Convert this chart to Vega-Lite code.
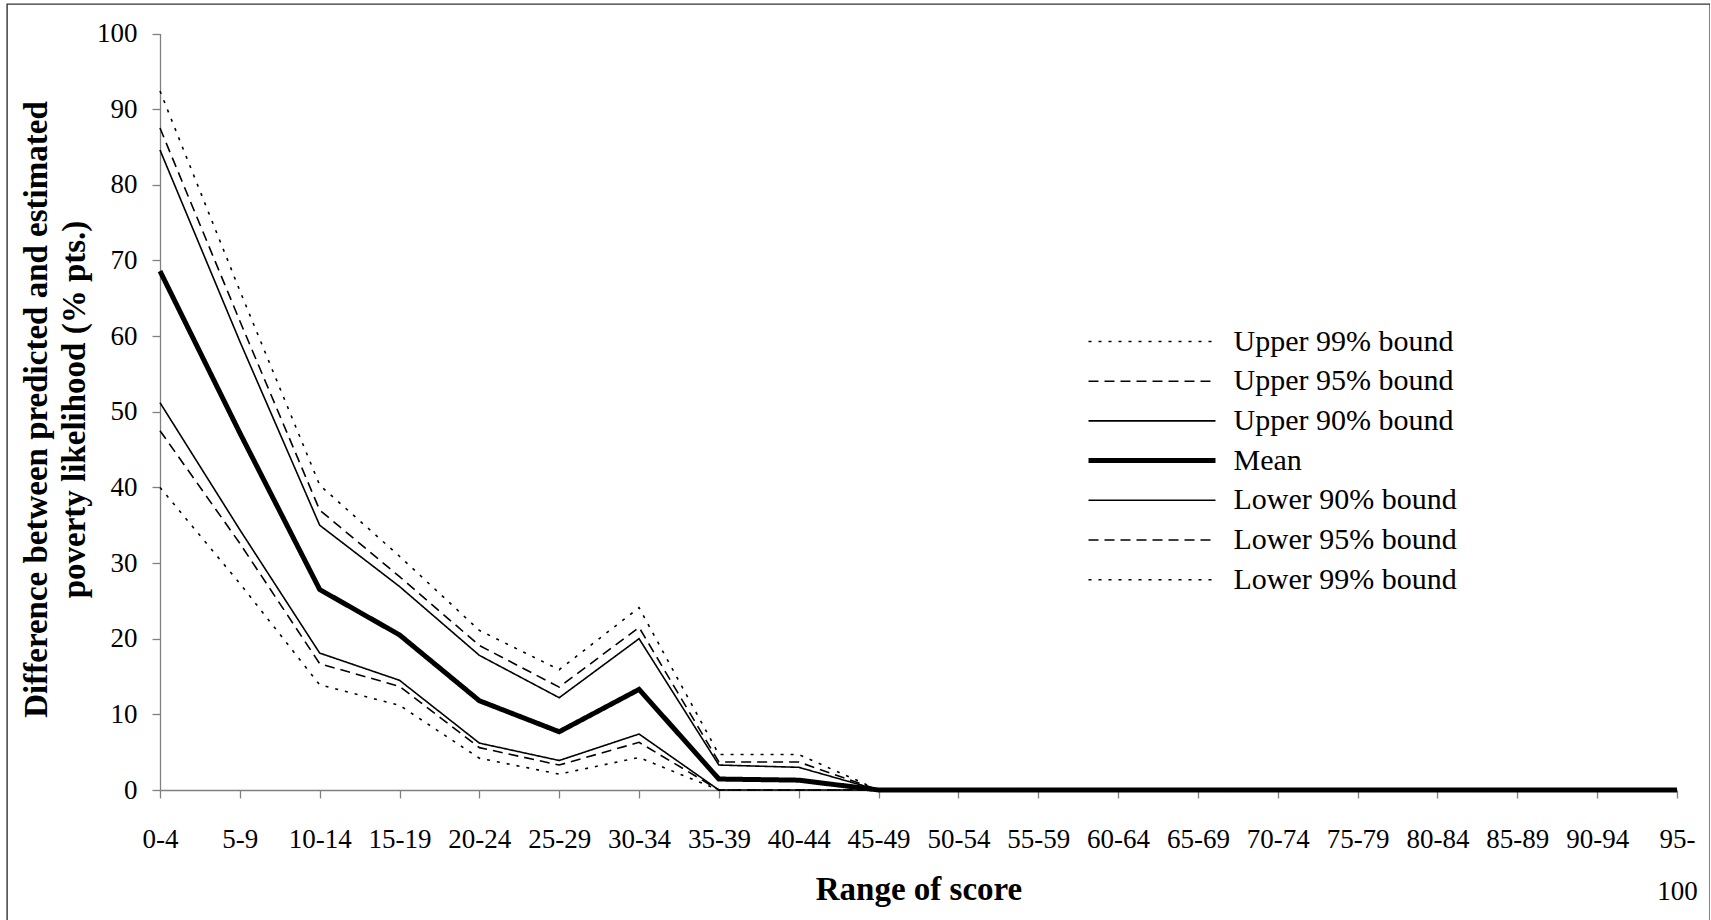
{
  "$schema": "https://vega.github.io/schema/vega-lite/v6.json",
  "width": 1703,
  "height": 925,
  "autosize": {"type": "none"},
  "padding": {"left": 7, "top": 4, "right": 0, "bottom": 0},
  "background": "white",
  "config": {
    "view": {"stroke": "#333333", "strokeWidth": 1.4},
    "font": "Liberation Serif",
    "axis": {"grid": false, "domainColor": "#808080", "tickColor": "#808080", "domainWidth": 1.3, "tickWidth": 1.3, "labelColor": "black", "titleColor": "black", "labelFont": "Liberation Serif", "titleFont": "Liberation Serif"}
  },
  "data": {
    "values": [
      {"range": "0-4", "series": "Upper 99% bound", "value": 92.4},
      {"range": "0-4", "series": "Upper 95% bound", "value": 87.5},
      {"range": "0-4", "series": "Upper 90% bound", "value": 84.6},
      {"range": "0-4", "series": "Mean", "value": 68.6},
      {"range": "0-4", "series": "Lower 90% bound", "value": 51.2},
      {"range": "0-4", "series": "Lower 95% bound", "value": 47.5},
      {"range": "0-4", "series": "Lower 99% bound", "value": 40.0},
      {"range": "5-9", "series": "Upper 99% bound", "value": 66.0},
      {"range": "5-9", "series": "Upper 95% bound", "value": 62.0},
      {"range": "5-9", "series": "Upper 90% bound", "value": 59.3},
      {"range": "5-9", "series": "Mean", "value": 47.2},
      {"range": "5-9", "series": "Lower 90% bound", "value": 34.4},
      {"range": "5-9", "series": "Lower 95% bound", "value": 32.6},
      {"range": "5-9", "series": "Lower 99% bound", "value": 27.3},
      {"range": "10-14", "series": "Upper 99% bound", "value": 40.3},
      {"range": "10-14", "series": "Upper 95% bound", "value": 37.0},
      {"range": "10-14", "series": "Upper 90% bound", "value": 35.0},
      {"range": "10-14", "series": "Mean", "value": 26.5},
      {"range": "10-14", "series": "Lower 90% bound", "value": 18.1},
      {"range": "10-14", "series": "Lower 95% bound", "value": 16.7},
      {"range": "10-14", "series": "Lower 99% bound", "value": 13.9},
      {"range": "15-19", "series": "Upper 99% bound", "value": 30.9},
      {"range": "15-19", "series": "Upper 95% bound", "value": 28.2},
      {"range": "15-19", "series": "Upper 90% bound", "value": 26.9},
      {"range": "15-19", "series": "Mean", "value": 20.5},
      {"range": "15-19", "series": "Lower 90% bound", "value": 14.5},
      {"range": "15-19", "series": "Lower 95% bound", "value": 13.7},
      {"range": "15-19", "series": "Lower 99% bound", "value": 11.2},
      {"range": "20-24", "series": "Upper 99% bound", "value": 21.1},
      {"range": "20-24", "series": "Upper 95% bound", "value": 19.1},
      {"range": "20-24", "series": "Upper 90% bound", "value": 17.8},
      {"range": "20-24", "series": "Mean", "value": 11.8},
      {"range": "20-24", "series": "Lower 90% bound", "value": 6.2},
      {"range": "20-24", "series": "Lower 95% bound", "value": 5.6},
      {"range": "20-24", "series": "Lower 99% bound", "value": 4.2},
      {"range": "25-29", "series": "Upper 99% bound", "value": 15.9},
      {"range": "25-29", "series": "Upper 95% bound", "value": 13.6},
      {"range": "25-29", "series": "Upper 90% bound", "value": 12.2},
      {"range": "25-29", "series": "Mean", "value": 7.7},
      {"range": "25-29", "series": "Lower 90% bound", "value": 3.9},
      {"range": "25-29", "series": "Lower 95% bound", "value": 3.3},
      {"range": "25-29", "series": "Lower 99% bound", "value": 2.1},
      {"range": "30-34", "series": "Upper 99% bound", "value": 24.1},
      {"range": "30-34", "series": "Upper 95% bound", "value": 21.5},
      {"range": "30-34", "series": "Upper 90% bound", "value": 20.0},
      {"range": "30-34", "series": "Mean", "value": 13.3},
      {"range": "30-34", "series": "Lower 90% bound", "value": 7.4},
      {"range": "30-34", "series": "Lower 95% bound", "value": 6.3},
      {"range": "30-34", "series": "Lower 99% bound", "value": 4.3},
      {"range": "35-39", "series": "Upper 99% bound", "value": 4.7},
      {"range": "35-39", "series": "Upper 95% bound", "value": 3.7},
      {"range": "35-39", "series": "Upper 90% bound", "value": 3.3},
      {"range": "35-39", "series": "Mean", "value": 1.45},
      {"range": "35-39", "series": "Lower 90% bound", "value": 0},
      {"range": "35-39", "series": "Lower 95% bound", "value": 0},
      {"range": "35-39", "series": "Lower 99% bound", "value": 0},
      {"range": "40-44", "series": "Upper 99% bound", "value": 4.7},
      {"range": "40-44", "series": "Upper 95% bound", "value": 3.7},
      {"range": "40-44", "series": "Upper 90% bound", "value": 3.0},
      {"range": "40-44", "series": "Mean", "value": 1.3},
      {"range": "40-44", "series": "Lower 90% bound", "value": 0},
      {"range": "40-44", "series": "Lower 95% bound", "value": 0},
      {"range": "40-44", "series": "Lower 99% bound", "value": 0},
      {"range": "45-49", "series": "Upper 99% bound", "value": 0},
      {"range": "45-49", "series": "Upper 95% bound", "value": 0},
      {"range": "45-49", "series": "Upper 90% bound", "value": 0},
      {"range": "45-49", "series": "Mean", "value": 0},
      {"range": "45-49", "series": "Lower 90% bound", "value": 0},
      {"range": "45-49", "series": "Lower 95% bound", "value": 0},
      {"range": "45-49", "series": "Lower 99% bound", "value": 0},
      {"range": "50-54", "series": "Upper 99% bound", "value": 0},
      {"range": "50-54", "series": "Upper 95% bound", "value": 0},
      {"range": "50-54", "series": "Upper 90% bound", "value": 0},
      {"range": "50-54", "series": "Mean", "value": 0},
      {"range": "50-54", "series": "Lower 90% bound", "value": 0},
      {"range": "50-54", "series": "Lower 95% bound", "value": 0},
      {"range": "50-54", "series": "Lower 99% bound", "value": 0},
      {"range": "55-59", "series": "Upper 99% bound", "value": 0},
      {"range": "55-59", "series": "Upper 95% bound", "value": 0},
      {"range": "55-59", "series": "Upper 90% bound", "value": 0},
      {"range": "55-59", "series": "Mean", "value": 0},
      {"range": "55-59", "series": "Lower 90% bound", "value": 0},
      {"range": "55-59", "series": "Lower 95% bound", "value": 0},
      {"range": "55-59", "series": "Lower 99% bound", "value": 0},
      {"range": "60-64", "series": "Upper 99% bound", "value": 0},
      {"range": "60-64", "series": "Upper 95% bound", "value": 0},
      {"range": "60-64", "series": "Upper 90% bound", "value": 0},
      {"range": "60-64", "series": "Mean", "value": 0},
      {"range": "60-64", "series": "Lower 90% bound", "value": 0},
      {"range": "60-64", "series": "Lower 95% bound", "value": 0},
      {"range": "60-64", "series": "Lower 99% bound", "value": 0},
      {"range": "65-69", "series": "Upper 99% bound", "value": 0},
      {"range": "65-69", "series": "Upper 95% bound", "value": 0},
      {"range": "65-69", "series": "Upper 90% bound", "value": 0},
      {"range": "65-69", "series": "Mean", "value": 0},
      {"range": "65-69", "series": "Lower 90% bound", "value": 0},
      {"range": "65-69", "series": "Lower 95% bound", "value": 0},
      {"range": "65-69", "series": "Lower 99% bound", "value": 0},
      {"range": "70-74", "series": "Upper 99% bound", "value": 0},
      {"range": "70-74", "series": "Upper 95% bound", "value": 0},
      {"range": "70-74", "series": "Upper 90% bound", "value": 0},
      {"range": "70-74", "series": "Mean", "value": 0},
      {"range": "70-74", "series": "Lower 90% bound", "value": 0},
      {"range": "70-74", "series": "Lower 95% bound", "value": 0},
      {"range": "70-74", "series": "Lower 99% bound", "value": 0},
      {"range": "75-79", "series": "Upper 99% bound", "value": 0},
      {"range": "75-79", "series": "Upper 95% bound", "value": 0},
      {"range": "75-79", "series": "Upper 90% bound", "value": 0},
      {"range": "75-79", "series": "Mean", "value": 0},
      {"range": "75-79", "series": "Lower 90% bound", "value": 0},
      {"range": "75-79", "series": "Lower 95% bound", "value": 0},
      {"range": "75-79", "series": "Lower 99% bound", "value": 0},
      {"range": "80-84", "series": "Upper 99% bound", "value": 0},
      {"range": "80-84", "series": "Upper 95% bound", "value": 0},
      {"range": "80-84", "series": "Upper 90% bound", "value": 0},
      {"range": "80-84", "series": "Mean", "value": 0},
      {"range": "80-84", "series": "Lower 90% bound", "value": 0},
      {"range": "80-84", "series": "Lower 95% bound", "value": 0},
      {"range": "80-84", "series": "Lower 99% bound", "value": 0},
      {"range": "85-89", "series": "Upper 99% bound", "value": 0},
      {"range": "85-89", "series": "Upper 95% bound", "value": 0},
      {"range": "85-89", "series": "Upper 90% bound", "value": 0},
      {"range": "85-89", "series": "Mean", "value": 0},
      {"range": "85-89", "series": "Lower 90% bound", "value": 0},
      {"range": "85-89", "series": "Lower 95% bound", "value": 0},
      {"range": "85-89", "series": "Lower 99% bound", "value": 0},
      {"range": "90-94", "series": "Upper 99% bound", "value": 0},
      {"range": "90-94", "series": "Upper 95% bound", "value": 0},
      {"range": "90-94", "series": "Upper 90% bound", "value": 0},
      {"range": "90-94", "series": "Mean", "value": 0},
      {"range": "90-94", "series": "Lower 90% bound", "value": 0},
      {"range": "90-94", "series": "Lower 95% bound", "value": 0},
      {"range": "90-94", "series": "Lower 99% bound", "value": 0},
      {"range": "95-100", "series": "Upper 99% bound", "value": 0},
      {"range": "95-100", "series": "Upper 95% bound", "value": 0},
      {"range": "95-100", "series": "Upper 90% bound", "value": 0},
      {"range": "95-100", "series": "Mean", "value": 0},
      {"range": "95-100", "series": "Lower 90% bound", "value": 0},
      {"range": "95-100", "series": "Lower 95% bound", "value": 0},
      {"range": "95-100", "series": "Lower 99% bound", "value": 0}
    ]
  },
  "mark": {"type": "line", "color": "black", "strokeCap": "butt"},
  "encoding": {
    "x": {
      "field": "range",
      "type": "ordinal",
      "sort": null,
      "scale": {"type": "point", "domain": ["0-4","5-9","10-14","15-19","20-24","25-29","30-34","35-39","40-44","45-49","50-54","55-59","60-64","65-69","70-74","75-79","80-84","85-89","90-94","95-100"], "range": [153, 1670], "padding": 0},
      "axis": {
        "offset": -139,
        "tickSize": 8,
        "labelAngle": 0,
        "labelPadding": 49,
        "labelBaseline": "alphabetic",
        "labelLineHeight": 52,
        "labelFontSize": 27,
        "labelOverlap": false,
        "labelFlush": false,
        "labelExpr": "datum.label == '95-100' ? ['95-', '100'] : datum.label",
        "title": "Range of score",
        "titleFontSize": 33,
        "titleFontWeight": "bold",
        "titleBaseline": "alphabetic",
        "titleY": 109
      }
    },
    "y": {
      "field": "value",
      "type": "quantitative",
      "scale": {"domain": [0, 100], "range": [786, 29.5], "nice": false},
      "axis": {
        "offset": -153,
        "values": [0,10,20,30,40,50,60,70,80,90,100],
        "tickSize": 8,
        "labelPadding": 15,
        "labelFontSize": 27,
        "labelBaseline": "middle",
        "title": ["Difference between predicted and estimated", "poverty likelihood (% pts.)"],
        "titleFontSize": 33,
        "titleFontWeight": "bold",
        "titleAngle": -90,
        "titleAlign": "center",
        "titleBaseline": "middle",
        "titleLineHeight": 38,
        "titleX": -124,
        "titleY": 405
      }
    },
    "strokeDash": {
      "field": "series",
      "type": "nominal",
      "scale": {
        "domain": ["Upper 99% bound","Upper 95% bound","Upper 90% bound","Mean","Lower 90% bound","Lower 95% bound","Lower 99% bound"],
        "range": [[3,7],[10,6],[1,0],[1,0],[1,0],[10,6],[3,7]]
      },
      "legend": {
        "orient": "none",
        "legendX": 1085.5,
        "legendY": 322.5,
        "title": null,
        "symbolType": "M-1,0H5.684",
        "symbolSize": 1444,
        "symbolStrokeColor": "black",
        "symbolStrokeWidth": 1.6,
        "rowPadding": 9.7,
        "padding": 0,
        "labelFont": "Liberation Serif",
        "labelFontSize": 30,
        "labelColor": "black",
        "labelOffset": 111,
        "labelLimit": 400,
        "encode": {"symbols": {"update": {"strokeWidth": {"signal": "datum.value === 'Mean' ? 5 : 1.6"}}}}
      }
    },
    "strokeWidth": {"condition": {"test": "datum.series === 'Mean'", "value": 5}, "value": 1.6}
  }
}
